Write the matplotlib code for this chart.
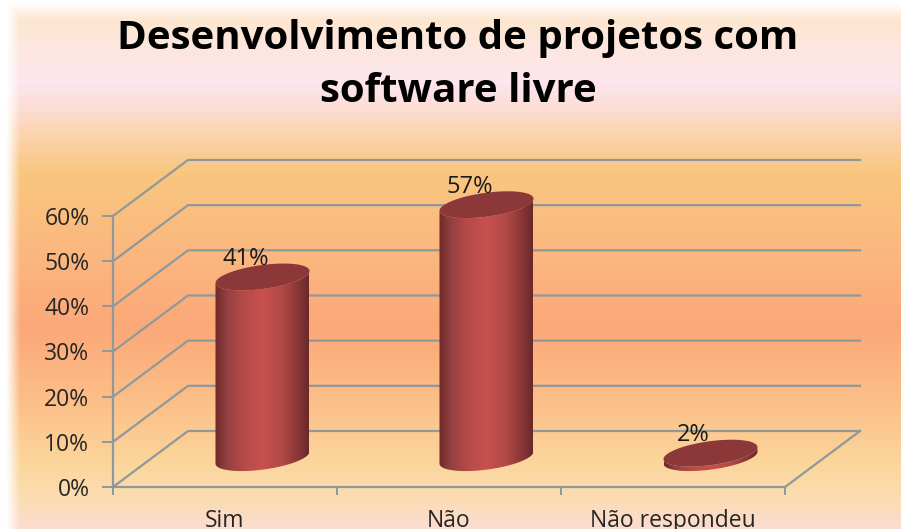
import numpy as np
import matplotlib
matplotlib.use("Agg")
import matplotlib.pyplot as plt
from matplotlib.colors import LinearSegmentedColormap
from matplotlib.patches import Polygon

# === 1. Chart data ===
categories = ["Sim", "Não", "Não respondeu"]
values = [41, 57, 2]
labels = ["41%", "57%", "2%"]
y_ticks = [0, 10, 20, 30, 40, 50, 60]
y_tick_labels = ["0%", "10%", "20%", "30%", "40%", "50%", "60%"]
title = "Desenvolvimento de projetos com\nsoftware livre"

# === 2. Look of the fake 3D chart ===
W, H = 901, 529
PX_X = 224.0   # pixels per category
PX_Y = 4.517   # pixels per percent
DEPTH_X = 75 / PX_X
DEPTH_Y = 56 / PX_Y
BAR_RX = 47 / PX_X
BAR_RY = 12 / PX_Y
BAR_TILT = 6 / PX_Y
GRID = "#8f999b"
plt.rcParams["font.family"] = ["Open Sans", "DejaVu Sans"]

fig = plt.figure(figsize=(W / 100, H / 100), dpi=100)

# --- background gradient ---
bg_stops = [(0.0, "#fdf3e8"), (0.04, "#fde6d0"), (0.10, "#fde7e2"), (0.155, "#fde6ee"),
            (0.21, "#fcdcd0"), (0.27, "#fbd0a0"), (0.33, "#f9c67e"), (0.48, "#fbb77f"),
            (0.62, "#fba878"), (0.75, "#fbbd86"), (0.88, "#fbd69c"), (0.94, "#fcdcb0"),
            (1.0, "#fbdccf")]
bg_map = LinearSegmentedColormap.from_list("bg", bg_stops)
bg = fig.add_axes([0, 0, 1, 1], zorder=0)
bg.imshow(np.linspace(0, 1, H)[:, None], cmap=bg_map, aspect="auto", vmin=0, vmax=1,
          extent=[0, W, H, 0])
# white fade on the left and top edges
fade = np.ones((H, W, 4))
fade_x = np.clip(1 - (np.arange(W) - 6) / 14, 0, 1)[None, :]
fade_y = np.clip(1 - (np.arange(H) - 2) / 14, 0, 1)[:, None]
fade[:, :, 3] = np.maximum(fade_x, fade_y)
bg.imshow(fade, aspect="auto", extent=[0, W, H, 0])
bg.set_xlim(0, W)
bg.set_ylim(H, 0)
bg.axis("off")

# --- main axes: x in categories, y in percent ---
ax = fig.add_axes([0, 0, 1, 1], zorder=1)
ax.patch.set_alpha(0)

for s in ["top", "right"]:
    ax.spines[s].set_visible(False)
ax.spines["left"].set_position(("data", 0))
ax.spines["left"].set_bounds(0, max(y_ticks))
ax.spines["bottom"].set_position(("data", 0))
ax.spines["bottom"].set_bounds(0, len(categories))
for s in ["left", "bottom"]:
    ax.spines[s].set_color(GRID)
    ax.spines[s].set_linewidth(1.6)

ax.set_yticks(y_ticks, y_tick_labels, fontsize=16.5, color="#262626")
ax.set_xticks(np.arange(len(categories) + 1), [""] * (len(categories) + 1))
ax.set_xticks(np.arange(len(categories)) + 0.5, categories, minor=True, fontsize=16.5, color="#262626")
ax.tick_params(axis="y", length=8, width=1.4, color=GRID, pad=9)
ax.tick_params(axis="x", which="major", length=6, width=1.4, color=GRID)
ax.tick_params(axis="x", which="minor", length=0, pad=16)

# --- walls: grid lines running back and along, and right side of the floor ---
n = len(categories)
for v in y_ticks:
    ax.plot([0, DEPTH_X, n + DEPTH_X], [v, v + DEPTH_Y, v + DEPTH_Y], color=GRID, lw=1.6, zorder=1)
ax.plot([n, n + DEPTH_X], [0, DEPTH_Y], color=GRID, lw=1.6, zorder=1)

# --- cylinders ---
shade = LinearSegmentedColormap.from_list(
    "cyl", [(0, "#6e2a2a"), (0.12, "#94403f"), (0.3, "#b54b49"), (0.5, "#c9504e"),
            (0.72, "#b04a48"), (0.9, "#853534"), (1, "#692929")])
t = np.linspace(0, 2 * np.pi, 121)
half = t[:61]
for i, v in enumerate(values):
    cx = i + 0.5 + DEPTH_X / 2
    base = DEPTH_Y / 2 + 0.3
    top = v + DEPTH_Y / 2 - 0.7
    # body outline: lower half of the base ellipse + lower half of the top ellipse
    arc_x = cx + BAR_RX * np.cos(half)
    arc_y = BAR_TILT * np.cos(half) - BAR_RY * np.sin(half)
    xs = np.r_[arc_x, arc_x[::-1]]
    ys = np.r_[base + arc_y, (top + arc_y)[::-1]]
    body = Polygon(np.c_[xs, ys], closed=True, fc="none", ec="none", zorder=3)
    ax.add_patch(body)
    img = ax.imshow(np.linspace(0, 1, 200)[None, :], cmap=shade, aspect="auto", zorder=3,
                    extent=[cx - BAR_RX, cx + BAR_RX, base - 4 * BAR_RY, top + 4 * BAR_RY],
                    vmin=0, vmax=1)
    img.set_clip_path(body)
    ax.fill(cx + BAR_RX * np.cos(t), top + BAR_TILT * np.cos(t) + BAR_RY * np.sin(t),
            color="#8c3838", lw=0, zorder=4)
    ax.text(cx - 0.075, top + 18 / PX_Y, labels[i], fontsize=17, color="#1a1a1a",
            ha="center", va="center", zorder=5)

ax.set_xlim(-113 / PX_X, (W - 113) / PX_X)
ax.set_ylim(-(H - 487) / PX_Y, 487 / PX_Y)

fig.text(458 / W, 1 - 65 / H, title, fontsize=29, fontweight="bold", color="black",
         ha="center", va="center", linespacing=1.5, zorder=5)

fig.savefig("out.png", dpi=100)
